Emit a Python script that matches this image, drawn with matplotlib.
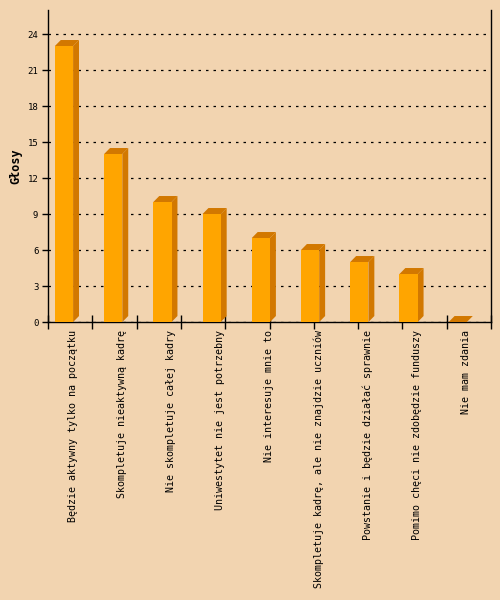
import numpy as np
import matplotlib.pyplot as plt
from matplotlib.patches import Polygon

# Dane z wykresu
categories = [
    'Będzie aktywny tylko na początku',
    'Skompletuje nieaktywną kadrę',
    'Nie skompletuje całej kadry',
    'Uniwestytet nie jest potrzebny',
    'Nie interesuje mnie to',
    'Skompletuje kadrę, ale nie znajdzie uczniów',
    'Powstanie i będzie działać sprawnie',
    'Pomimo chęci nie zdobędzie funduszy',
    'Nie mam zdania',
]
votes = [23, 14, 10, 9, 7, 6, 5, 4, 0]
y_ticks = [0, 3, 6, 9, 12, 15, 18, 21, 24]

bg = '#F2D4B0'
front = '#FFA500'
side = '#D27800'

fig = plt.figure(figsize=(5, 6), dpi=100, facecolor=bg)
ax = fig.add_axes([0.096, 0.4633, 0.886, 0.52], facecolor=bg)

x = np.arange(len(votes))
w = 0.37
off = 0.14
dx, dy = 0.12, 0.5

for i, v in enumerate(votes):
    x0 = x[i] + off
    x1 = x0 + w
    ax.add_patch(Polygon([(x0, v), (x1, v), (x1 + dx, v + dy), (x0 + dx, v + dy)],
                         closed=True, facecolor=side, edgecolor='none', zorder=3))
    ax.add_patch(Polygon([(x1, 0), (x1 + dx, dy), (x1 + dx, v + dy), (x1, v)],
                         closed=True, facecolor=side, edgecolor='none', zorder=3))
    ax.bar(x0, v, width=w, align='edge', color=front, zorder=4)

ax.set_xlim(0, len(votes))
ax.set_ylim(0, 26)

ax.set_yticks(y_ticks)
ax.set_yticklabels([str(t) for t in y_ticks], fontsize=6.5, family='DejaVu Sans Mono')
ax.yaxis.grid(True, linestyle=(0, (2, 4)), color='black', linewidth=0.9)
ax.set_axisbelow(True)

ax.set_xticks(np.linspace(0, len(votes), 11))
ax.set_xticklabels([])
ax.tick_params(axis='x', which='major', direction='inout', length=10, width=1)
ax.tick_params(axis='y', direction='out', length=4, width=1, pad=3)

# etykiety kategorii
tr = ax.get_xaxis_transform()
for xi, lab in zip(x + 0.5, categories):
    ax.text(xi, -0.025, lab, transform=tr, rotation=90, fontsize=7.2,
            family='DejaVu Sans Mono', va='top', ha='center')

ax.spines['top'].set_visible(False)
for s in ['left', 'right', 'bottom']:
    ax.spines[s].set_linewidth(1)

ax.set_ylabel('Głosy', fontsize=8.5, fontweight='bold', family='DejaVu Sans Mono', labelpad=4)

fig.savefig('out.png', dpi=100, facecolor=bg)
